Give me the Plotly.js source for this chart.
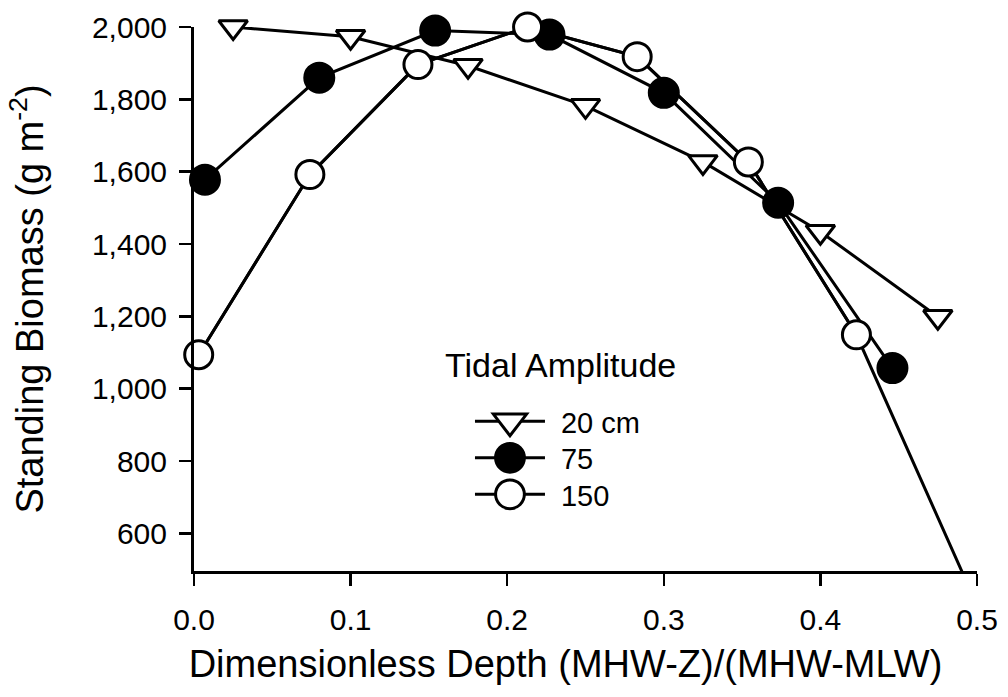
<!DOCTYPE html>
<html>
<head>
<meta charset="utf-8">
<script src="https://cdn.plot.ly/plotly-3.0.1.min.js"></script>
<style>html,body{margin:0;padding:0;background:#fff;}#chart{width:1008px;height:697px;}</style>
</head>
<body>
<div id="chart"></div>
<script>
// Tidal amplitude 20 cm
const depth20 = [0.025, 0.100, 0.175, 0.250, 0.325, 0.400, 0.475];
const biomass20 = [2000, 1973, 1893, 1782, 1627, 1434, 1199];
// Tidal amplitude 75 cm
const depth75 = [0.007, 0.080, 0.154, 0.227, 0.300, 0.373, 0.446];
const biomass75 = [1578, 1860, 1990, 1979, 1818, 1514, 1057];
// Tidal amplitude 150 cm (last point lies below the axis and is clipped)
const depth150 = [0.003, 0.074, 0.143, 0.213, 0.283, 0.354, 0.423, 0.493];
const biomass150 = [1094, 1592, 1896, 2000, 1918, 1627, 1149, 469];

const seriesNames = ['20 cm', '75', '150'];
const xTickVals = [0.0, 0.1, 0.2, 0.3, 0.4, 0.5];

const FONT = 'Liberation Sans, Arial, Helvetica, sans-serif';
const yMin = 496;
// points of the 150 cm series that lie inside the plotted range get a marker
const shown150 = biomass150.map(v => v >= yMin);
const mx150 = depth150.filter((_, i) => shown150[i]);
const my150 = biomass150.filter((_, i) => shown150[i]);

const traces = [
  {
    x: depth20, y: biomass20, name: seriesNames[0], type: 'scatter', mode: 'lines+markers',
    line: {color: '#000', width: 3},
    marker: {symbol: 'triangle-down', size: 25, color: '#fff', opacity: 1, line: {color: '#000', width: 3}},
    cliponaxis: false, legendgroup: 'g'
  },
  {
    x: depth75, y: biomass75, name: seriesNames[1], type: 'scatter', mode: 'lines+markers',
    line: {color: '#000', width: 3},
    marker: {symbol: 'circle', size: 29, color: '#000', opacity: 1, line: {color: '#000', width: 3}},
    cliponaxis: false, legendgroup: 'g'
  },
  {
    x: depth150, y: biomass150, name: seriesNames[2], type: 'scatter', mode: 'lines',
    line: {color: '#000', width: 3}, showlegend: false, legendgroup: 'g'
  },
  {
    x: mx150, y: my150, name: seriesNames[2], type: 'scatter', mode: 'lines+markers',
    line: {color: '#000', width: 3},
    marker: {symbol: 'circle', size: 28, color: '#fff', opacity: 1, line: {color: '#000', width: 3}},
    cliponaxis: false, legendgroup: 'g'
  }
];

const layout = {
  width: 1008, height: 697,
  margin: {l: 194, r: 31, t: 27, b: 126},
  paper_bgcolor: '#fff', plot_bgcolor: '#fff',
  font: {family: FONT, color: '#000'},
  showlegend: true,
  legend: {
    x: 0.378, y: 0.3218, xanchor: 'left', yanchor: 'top',
    bgcolor: 'rgba(0,0,0,0)', borderwidth: 0,
    font: {family: FONT, size: 29, color: '#000'},
    tracegroupgap: 0, traceorder: 'normal'
  },
  xaxis: {
    range: [0, 0.5], tickvals: xTickVals, tickformat: '.1f',
    showline: true, linecolor: '#000', linewidth: 3, mirror: false,
    ticks: 'outside', ticklen: 12, tickwidth: 2.5, tickcolor: '#000',
    showgrid: false, zeroline: false,
    tickfont: {family: FONT, size: 30, color: '#000'},
    ticklabelstandoff: 8,
    title: {text: 'Dimensionless Depth (MHW-Z)/(MHW-MLW)', font: {family: FONT, size: 38, color: '#000'}, standoff: 16}
  },
  yaxis: {
    range: [yMin, 2000.01], dtick: 200, tick0: 0, tickformat: ',d',
    showline: true, linecolor: '#000', linewidth: 3, mirror: false,
    ticks: 'outside', ticklen: 12, tickwidth: 2.5, tickcolor: '#000',
    showgrid: false, zeroline: false,
    tickfont: {family: FONT, size: 30, color: '#000'},
    ticklabelstandoff: 6,
    title: {text: 'Standing Biomass (g m<sup>-2</sup>)', font: {family: FONT, size: 38, color: '#000'}, standoff: 37}
  },
  annotations: [{
    text: 'Tidal Amplitude', xref: 'paper', yref: 'paper',
    x: 0.318, y: 0.379, xanchor: 'left', yanchor: 'middle', showarrow: false,
    font: {family: FONT, size: 34, color: '#000'}
  }]
};

Plotly.newPlot('chart', traces, layout, {displayModeBar: false, staticPlot: true}).then(function (gd) {
  // x-axis title sits a little left of the axis centre in the figure
  const xt = gd.querySelector('.g-xtitle text');
  if (xt) { xt.setAttribute('x', (parseFloat(xt.getAttribute('x')) || 0) - 20); }
  // enlarge the legend symbols and tighten the rows to match the figure's key
  gd.querySelectorAll('.legend [clip-path]').forEach(function (el) { el.removeAttribute('clip-path'); });
  let y0 = null;
  gd.querySelectorAll('.legend .traces').forEach(function (tr, i) {
    const m = /translate\(([-\d.e]+)[ ,]+([-\d.e]+)\)/.exec(tr.getAttribute('transform') || '');
    if (m) {
      if (y0 === null) { y0 = parseFloat(m[2]); }
      tr.setAttribute('transform', 'translate(' + m[1] + ',' + (y0 + i * 36.5) + ')');
    }
    tr.querySelectorAll('.legendlines path').forEach(function (p) { p.setAttribute('d', 'M-15,0h70'); });
    tr.querySelectorAll('.legendpoints path.scatterpts').forEach(function (p) {
      p.setAttribute('transform', 'translate(20,0) scale(1.8)');
      p.style.vectorEffect = 'non-scaling-stroke';
      p.style.strokeWidth = '3px';
    });
    tr.querySelectorAll('text.legendtext').forEach(function (t) { t.setAttribute('transform', 'translate(31,0)'); });
  });
});
</script>
</body>
</html>
